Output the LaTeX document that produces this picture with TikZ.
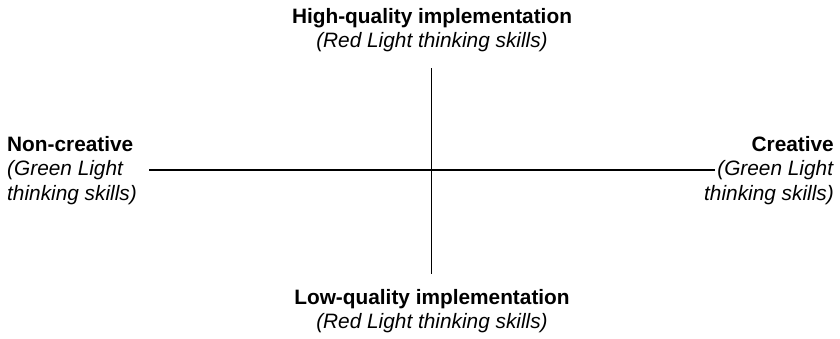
\documentclass[tikz,border=0pt]{standalone}
\usepackage{fontspec}
\setmainfont{Liberation Sans}
\begin{document}
\begin{tikzpicture}[x=1bp,y=-1bp,
  lbl/.style={inner sep=0pt, font=\fontsize{20.9}{24.5}\selectfont},
  axis/.style={line width=1.1bp, black}]
\useasboundingbox (0,0) rectangle (840,338);
\node[lbl, align=center, anchor=north] (top) at (432,8)
  {\textbf{High-quality implementation}\\\textit{(Red Light thinking skills)}};
\node[lbl, align=center, anchor=north] (bottom) at (432,289)
  {\textbf{Low-quality implementation}\\\textit{(Red Light thinking skills)}};
\node[lbl, align=left, anchor=north west] (left) at (7,136)
  {\textbf{Non-creative}\\\textit{(Green Light}\\\textit{thinking skills)}};
\node[lbl, align=right, anchor=north east] (right) at (834,136)
  {\textbf{Creative}\\\textit{(Green Light}\\\textit{thinking skills)}};
\coordinate (hl) at (149,170);
\coordinate (hr) at (715,170);
\coordinate (vt) at (431.5,68);
\coordinate (vb) at (431.5,274);
\draw[axis] (hl) -- (hr);
\draw[axis] (vt) -- (vb);
\end{tikzpicture}
\end{document}
